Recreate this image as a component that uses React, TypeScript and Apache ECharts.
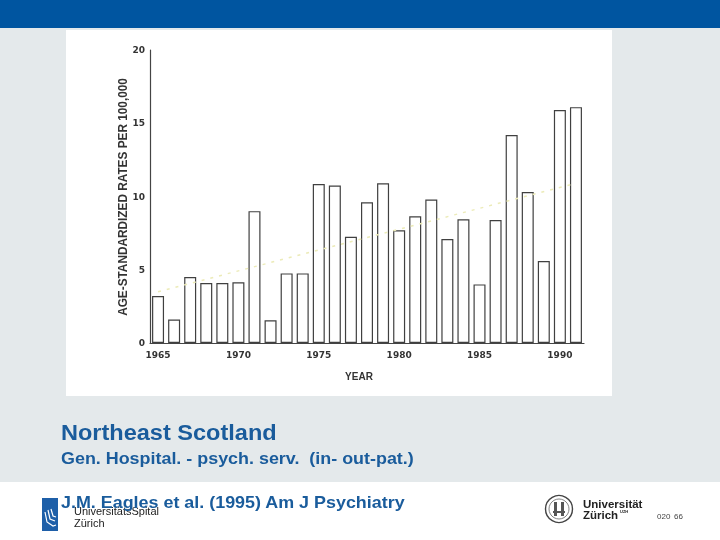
import React, { useEffect, useRef } from "react";
import * as echarts from "echarts";

const years = [
  "1965", "1966", "1967", "1968", "1969", "1970", "1971", "1972", "1973",
  "1974", "1975", "1976", "1977", "1978", "1979", "1980", "1981", "1982",
  "1983", "1984", "1985", "1986", "1987", "1988", "1989", "1990", "1991",
];
const rates = [
  3.2, 1.6, 4.5, 4.1, 4.1, 4.15, 9.0, 1.55, 4.75, 4.75, 10.85, 10.75, 7.25,
  9.6, 10.9, 7.7, 8.65, 9.8, 7.1, 8.45, 4.0, 8.4, 14.2, 10.3, 5.6, 15.9, 16.1,
];
// faint trend line, read at its two ends
const trendEnds = { first: 3.5, last: 10.9 };
const yTicks = [0, 5, 10, 15, 20];
const yAxisTitle = "AGE-STANDARDIZED RATES PER 100,000";
const xAxisTitle = "YEAR";
const title = "Northeast Scotland";
const subtitle = "Gen. Hospital. - psych. serv.  (in- out-pat.)";
const source = "J.M. Eagles et al. (1995) Am J Psychiatry";

export default function App() {
  const ref = useRef<HTMLDivElement>(null);
  useEffect(() => {
    if (!ref.current) return;
    const chart = echarts.init(ref.current, null, { renderer: "svg" });
    const trend = years.map((_, i) =>
      i === 0 ? trendEnds.first : i === years.length - 1 ? trendEnds.last : null
    );
    const blue = "#1a5c9c";
    chart.setOption({
      animation: false,
      grid: { left: 150, top: 50, width: 434, height: 293, containLabel: false },
      xAxis: {
        type: "category",
        data: years,
        axisLine: { show: true, lineStyle: { color: "#444", width: 1.2 } },
        axisTick: { show: false },
        axisLabel: {
          interval: (i: number) => i % 5 === 0,
          margin: 7,
          fontFamily: "DejaVu Sans",
          fontWeight: "bold",
          fontSize: 9,
          color: "#333",
        },
      },
      yAxis: {
        type: "value",
        min: yTicks[0],
        max: yTicks[yTicks.length - 1],
        interval: 5,
        splitLine: { show: false },
        axisLine: { show: true, lineStyle: { color: "#444", width: 1.2 } },
        axisTick: { show: false },
        axisLabel: {
          margin: 5,
          fontFamily: "DejaVu Sans",
          fontWeight: "bold",
          fontSize: 9,
          color: "#333",
        },
      },
      series: [
        {
          type: "bar",
          data: rates,
          barWidth: 12,
          itemStyle: { color: "#ffffff", borderColor: "#404040", borderWidth: 1.2 },
          z: 2,
        },
        {
          type: "line",
          data: trend,
          connectNulls: true,
          symbol: "none",
          lineStyle: { color: "#ecebb8", width: 1.5, type: [3, 6] },
          z: 3,
        },
      ],
      graphic: [
        { type: "rect", z: -10, shape: { x: 0, y: 0, width: 720, height: 28 }, style: { fill: "#0055a0" } },
        { type: "rect", z: -10, shape: { x: 0, y: 28, width: 720, height: 454 }, style: { fill: "#e4e9eb" } },
        { type: "rect", z: -10, shape: { x: 0, y: 482, width: 720, height: 58 }, style: { fill: "#ffffff" } },
        { type: "rect", z: -9, shape: { x: 66, y: 30, width: 546, height: 366 }, style: { fill: "#ffffff" } },
        {
          type: "text",
          z: 10,
          x: 123,
          y: 197,
          rotation: Math.PI / 2,
          scaleX: 0.91,
          style: {
            text: yAxisTitle,
            font: "bold 13px 'Liberation Sans', Arial, sans-serif",
            fill: "#333",
            textAlign: "center",
            textVerticalAlign: "middle",
          },
        },
        {
          type: "text",
          z: 10,
          x: 359,
          y: 376,
          style: {
            text: xAxisTitle,
            font: "bold 10px 'Liberation Sans', Arial, sans-serif",
            fill: "#333",
            textAlign: "center",
            textVerticalAlign: "middle",
          },
        },
        {
          type: "text",
          z: 10,
          x: 61,
          y: 443,
          scaleX: 1.07,
          style: {
            text: title,
            font: "bold 22px 'Liberation Sans', Arial, sans-serif",
            fill: blue,
            textAlign: "left",
            textVerticalAlign: "bottom",
          },
        },
        {
          type: "text",
          z: 10,
          x: 61,
          y: 467,
          scaleX: 1.12,
          style: {
            text: subtitle,
            font: "bold 16px 'Liberation Sans', Arial, sans-serif",
            fill: blue,
            textAlign: "left",
            textVerticalAlign: "bottom",
          },
        },
        // UniversitätsSpital logo
        { type: "rect", z: 5, shape: { x: 42, y: 498, width: 16, height: 33 }, style: { fill: "#1e5fa8" } },
        {
          type: "polyline",
          z: 6,
          shape: { points: [[45, 512], [47, 522], [53, 526], [56, 525]] },
          style: { stroke: "#fff", lineWidth: 1.2, fill: "none" },
        },
        {
          type: "polyline",
          z: 6,
          shape: { points: [[48, 510], [50, 519], [55, 521]] },
          style: { stroke: "#fff", lineWidth: 1.2, fill: "none" },
        },
        {
          type: "polyline",
          z: 6,
          shape: { points: [[51, 509], [53, 516], [56, 517]] },
          style: { stroke: "#fff", lineWidth: 1.2, fill: "none" },
        },
        {
          type: "text",
          z: 8,
          x: 74,
          y: 511,
          style: { text: "UniversitätsSpital", font: "11px 'Liberation Sans', Arial, sans-serif", fill: "#222", textVerticalAlign: "middle" },
        },
        {
          type: "text",
          z: 8,
          x: 74,
          y: 523,
          style: { text: "Zürich", font: "11px 'Liberation Sans', Arial, sans-serif", fill: "#222", textVerticalAlign: "middle" },
        },
        {
          type: "text",
          z: 10,
          x: 61,
          y: 511,
          scaleX: 1.12,
          style: {
            text: source,
            font: "bold 16px 'Liberation Sans', Arial, sans-serif",
            fill: blue,
            textAlign: "left",
            textVerticalAlign: "bottom",
          },
        },
        // Universität Zürich seal
        { type: "circle", z: 6, shape: { cx: 559, cy: 509, r: 13.5 }, style: { fill: "#fff", stroke: "#444", lineWidth: 1.4 } },
        { type: "circle", z: 6, shape: { cx: 559, cy: 509, r: 10 }, style: { fill: "#fff", stroke: "#666", lineWidth: 0.8 } },
        { type: "rect", z: 7, shape: { x: 554, y: 502, width: 3, height: 14 }, style: { fill: "#555" } },
        { type: "rect", z: 7, shape: { x: 561, y: 502, width: 3, height: 14 }, style: { fill: "#555" } },
        { type: "rect", z: 7, shape: { x: 553, y: 511, width: 12, height: 2 }, style: { fill: "#555" } },
        {
          type: "text",
          z: 8,
          x: 583,
          y: 504,
          style: { text: "Universität", font: "bold 11.5px 'Liberation Sans', Arial, sans-serif", fill: "#222", textVerticalAlign: "middle" },
        },
        {
          type: "text",
          z: 8,
          x: 583,
          y: 515,
          style: { text: "Zürich", font: "bold 11.5px 'Liberation Sans', Arial, sans-serif", fill: "#222", textVerticalAlign: "middle" },
        },
        {
          type: "text",
          z: 8,
          x: 620,
          y: 511,
          style: { text: "UZH", font: "bold 4px 'Liberation Sans', Arial, sans-serif", fill: "#222", textVerticalAlign: "middle" },
        },
        {
          type: "text",
          z: 8,
          x: 657,
          y: 516,
          style: { text: "020", font: "8px 'Liberation Sans', Arial, sans-serif", fill: "#444", textVerticalAlign: "middle" },
        },
        {
          type: "text",
          z: 8,
          x: 674,
          y: 516,
          style: { text: "66", font: "8px 'Liberation Sans', Arial, sans-serif", fill: "#444", textVerticalAlign: "middle" },
        },
      ],
    });
    return () => chart.dispose();
  }, []);
  return (
    <div
      ref={ref}
      style={{ position: "fixed", left: 0, top: 0, width: 720, height: 540 }}
    />
  );
}
